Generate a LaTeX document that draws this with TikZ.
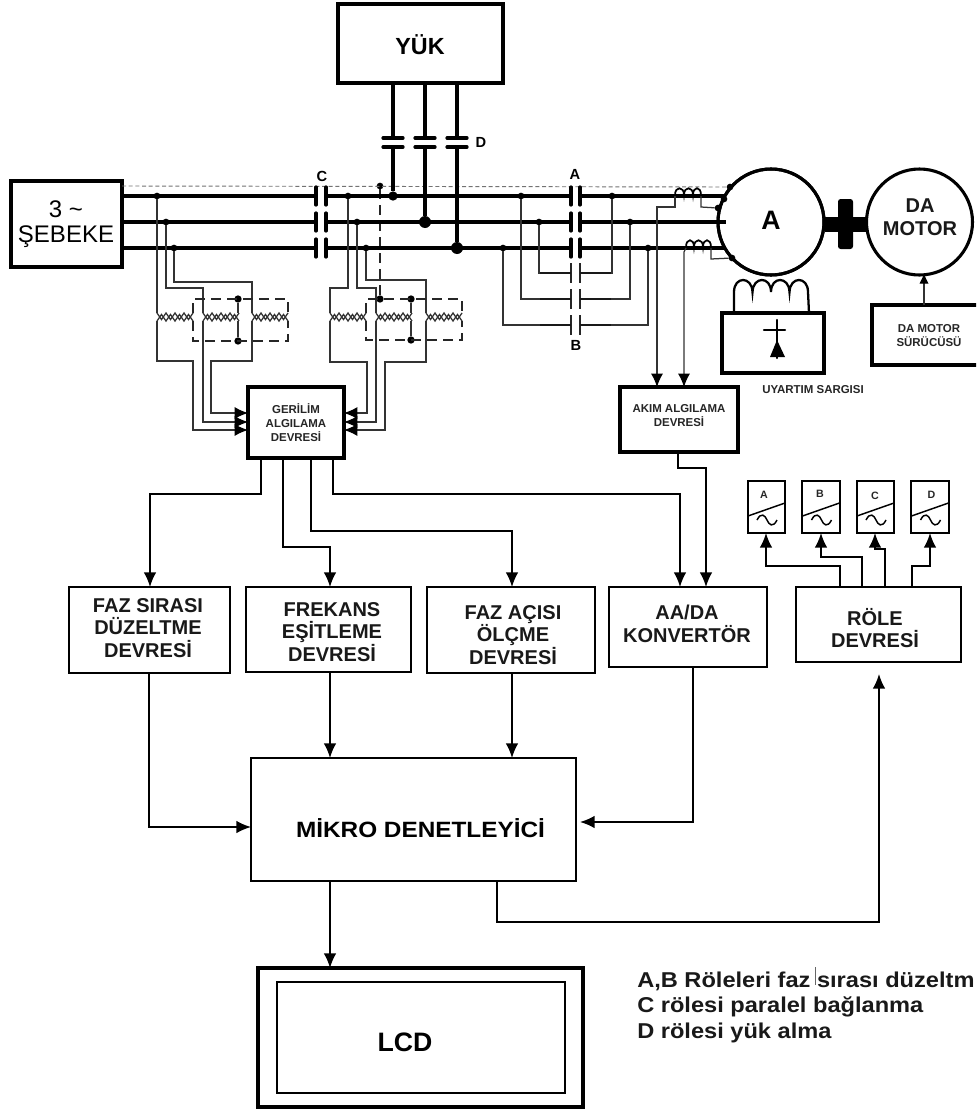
\documentclass[tikz,border=0pt]{standalone}
\usepackage{fontspec}
\setmainfont{Liberation Sans}
\newfontfamily\widefont{Liberation Sans}[FakeStretch=1.1]
\usetikzlibrary{arrows.meta}
\newcommand{\bx}[6][boxn]{%
  \pgfmathsetmacro{\bxcx}{(#3+#5)/2}\pgfmathsetmacro{\bxcy}{(#4+#6)/2}%
  \pgfmathsetmacro{\bxw}{(#5-#3)*.75}\pgfmathsetmacro{\bxh}{(#6-#4)*.75}%
  \node[#1,minimum width=\bxw pt,minimum height=\bxh pt] (#2) at (\bxcx,\bxcy) {};}
\tikzset{
  boxn/.style={draw=black,fill=white,line width=1.5pt,inner sep=0pt,outer sep=0pt,rectangle},
  boxh/.style={boxn,line width=2.4pt},
  bus/.style={line width=2.3pt,black},
  plate/.style={line width=2.4pt,black,line cap=round},
  tplate/.style={line width=1.1pt,black!85},
  wire/.style={line width=.95pt,black!80},
  mwire/.style={line width=1.3pt,black!90},
  dashw/.style={line width=1.05pt,black!85,dash pattern=on 7.5pt off 4.5pt},
  dashg/.style={line width=.7pt,black!55,dash pattern=on 3pt off 2pt},
  arr/.style={line width=1.3pt,-{Latex[length=11pt,width=9.5pt]}},
  arrt/.style={wire,-{Latex[length=10pt,width=9pt,black]}},
  sdot/.style={circle,fill=black,inner sep=0pt,minimum size=5pt,outer sep=0pt},
  mdot/.style={circle,fill=black,inner sep=0pt,minimum size=7pt,outer sep=0pt},
  ldot/.style={circle,fill=black,inner sep=0pt,minimum size=9pt,outer sep=0pt},
  t15/.style={font=\fontsize{15}{17}\selectfont\bfseries,align=center,inner sep=0pt,text=black!90},
  t9/.style={font=\fontsize{8.6}{10.5}\selectfont\bfseries,align=center,inner sep=0pt,text=black!85},
  t11/.style={font=\fontsize{11}{13}\selectfont\bfseries,inner sep=0pt},
  t8/.style={font=\fontsize{8}{9}\selectfont\bfseries,inner sep=0pt,text=black!85},
  note/.style={font=\widefont\fontsize{16.1}{18}\selectfont\bfseries,anchor=west,inner sep=0pt,text=black!90},
  xfmr/.pic={
    \draw[wire] (0,0) -- (4.5,6.5) -- (9,0) -- (13.5,6.5) -- (18,0) -- (22.5,6.5) -- (27,0) -- (31.5,6.5) -- (36,0);
    \draw[wire] (0,8) -- (4.5,1.5) -- (9,8) -- (13.5,1.5) -- (18,8) -- (22.5,1.5) -- (27,8) -- (31.5,1.5) -- (36,8);
  },
  relayface/.pic={
    \draw[line width=1.1pt] (0,35) -- (37,22);
    \draw[line width=1.1pt] (9,39) .. controls (13,31) and (17,34) .. (19,39) .. controls (21,44) and (25,47) .. (29,39);
  },
}
\begin{document}
\begin{tikzpicture}[x=.75pt,y=-.75pt]
\clip (0,0) rectangle (976,1110);
\fill[white] (0,0) rectangle (976,1110);

% main boxes
\bx[boxh]{seb}{11}{181}{122}{267}
\bx[boxh]{yuk}{338}{4}{503}{83}
\bx[boxh]{ger}{248}{387}{344}{458}
\bx[boxh]{aks}{620}{387}{738}{452}
\bx{fs}{69}{587}{230}{673}
\bx{fr}{246}{587}{411}{672}
\bx{fa}{427}{587}{595}{673}
\bx{kv}{609}{587}{767}{667}
\bx{ro}{796}{587}{961}{662}
\bx{mk}{251}{758}{576}{881}
\bx[boxh]{lo}{258}{968}{583}{1107}
\bx{li}{277}{982}{565}{1093}
\bx[boxh]{ex}{722}{313}{824}{373}
\bx[boxh]{sr}{872}{305}{985}{365}
\bx{ra}{748}{481}{785}{533}
\bx{rb}{802}{481}{840}{533}
\bx{rc}{857}{481}{894}{533}
\bx{rd}{911}{481}{949}{533}

% dots
\node[sdot] (a1) at (157,196) {};
\node[sdot] (a2) at (166,222) {};
\node[sdot] (a3) at (174,248) {};
\node[sdot] (b1) at (348,196) {};
\node[sdot] (b2) at (357,222) {};
\node[sdot] (b3) at (366,248) {};
\node[mdot] (n1) at (393,196) {};
\node[ldot] (n2) at (425,222) {};
\node[ldot] (n3) at (457,248) {};
\node[sdot] (l1) at (521,196) {};
\node[sdot] (l2) at (539,222) {};
\node[sdot] (l3) at (503,248) {};
\node[sdot] (r1) at (612,196) {};
\node[sdot] (r2) at (630,222) {};
\node[sdot] (r3) at (648,248) {};
\node[sdot] (dt) at (380,186) {};
\node[mdot,minimum size=5.5pt] (dx) at (380,299) {};
\node[mdot,minimum size=5.5pt] (s1) at (238,299) {};
\node[mdot,minimum size=5.5pt] (s2) at (238,341) {};
\node[mdot,minimum size=5.5pt] (s3) at (411,299) {};
\node[mdot,minimum size=5.5pt] (s4) at (411,340) {};

% motors
\fill[black] (825,217) rectangle (866,232);
\fill[black,rounded corners=2pt] (838,199) rectangle (853,249);
\node[circle,draw,fill=white,line width=2.3pt,minimum size=79.5pt,inner sep=0pt] (gen) at (771,222) {};
\node[circle,draw,fill=white,line width=2.3pt,minimum size=79.5pt,inner sep=0pt] (mot) at (919.5,222) {};
\node[sdot] (g0) at (730,187) {};
\node[sdot] (g1) at (724,199) {};
\node[sdot] (g2) at (718,208) {};
\node[sdot] (g3) at (732,258) {};

% dashed neutral
\draw[dashg] (seb.north east |- dt) -- (g0);
\draw[dashw,line width=.8pt] (dt) -- (dx);

% bus bars
\foreach \y in {196,222,248}{
  \draw[bus] (122,\y) -- (316,\y);
  \draw[bus] (326,\y) -- (571,\y);
  \draw[bus] (580,\y) -- (726,\y);
  \draw[plate] (316,\y-9) -- (316,\y+9);
  \draw[plate] (326,\y-9) -- (326,\y+9);
  \draw[plate] (571,\y-9) -- (571,\y+9);
  \draw[plate] (580,\y-9) -- (580,\y+9);
}
\foreach \x in {393,425,457}{
  \draw[bus] (\x,83) -- (\x,138);
  \draw[plate] (\x-10,138) -- (\x+10,138);
  \draw[plate] (\x-10,147) -- (\x+10,147);
}
\draw[bus] (393,147) -- (n1);
\draw[bus] (425,147) -- (n2);
\draw[bus] (457,147) -- (n3);
\node[circle,draw,line width=2.3pt,minimum size=79.5pt,inner sep=0pt] at (771,222) {};

% B contactor
\foreach \y in {273,299,325}{
  \draw[tplate] (571,\y-10) -- (571,\y+10);
  \draw[tplate] (580,\y-10) -- (580,\y+10);
}
\draw[wire] (l2) -- (539,273) -- (571,273);
\draw[wire] (580,273) -- (612,273) -- (r1);
\draw[wire] (l1) -- (521,299) -- (571,299);
\draw[wire] (580,299) -- (630,299) -- (r2);
\draw[wire] (l3) -- (503,325) -- (571,325);
\draw[wire] (580,325) -- (648,325) -- (r3);
\draw[mwire] (540,273) -- (571,273) (580,273) -- (611,273);
\draw[mwire] (540,299) -- (571,299) (580,299) -- (611,299);
\draw[mwire] (540,325) -- (571,325) (580,325) -- (611,325);

% transformers, left group
\pic at (157,313) {xfmr};
\pic at (203,313) {xfmr};
\pic at (252,313) {xfmr};
\draw[wire] (a1) -- (157,313);
\draw[wire] (a2) -- (166,288) -- (203,288) -- (203,313);
\draw[wire] (a3) -- (174,282) -- (252,282) -- (252,313);
\draw[dashw] (193,313) -- (193,299) -- (288,299) -- (288,313);
\draw[dashw] (193,321) -- (193,341) -- (288,341) -- (288,321);
\draw[wire] (s1) -- (238,313);
\draw[wire] (s2) -- (238,321);
\draw[arrt] (157,321) -- (157,361) -- (193,361) -- (193,430) -- (ger.west |- 0,430);
\draw[arrt] (203,321) -- (203,422) -- (ger.west |- 0,422);
\draw[arrt] (252,321) -- (252,361) -- (211,361) -- (211,413) -- (ger.west |- 0,413);

% transformers, right group
\pic at (330,313) {xfmr};
\pic at (376,313) {xfmr};
\pic at (426,313) {xfmr};
\draw[wire] (b1) -- (348,288) -- (330,288) -- (330,313);
\draw[wire] (b2) -- (357,288) -- (376,288) -- (376,313);
\draw[wire] (b3) -- (366,280) -- (426,280) -- (426,313);
\draw[dashw] (366,313) -- (366,299) -- (462,299) -- (462,313);
\draw[dashw] (366,321) -- (366,340) -- (462,340) -- (462,321);
\draw[wire] (s3) -- (411,313);
\draw[wire] (s4) -- (411,321);
\draw[arrt] (330,321) -- (330,362) -- (367,362) -- (367,413) -- (ger.east |- 0,413);
\draw[arrt] (376,321) -- (376,422) -- (ger.east |- 0,422);
\draw[arrt] (426,321) -- (426,362) -- (385,362) -- (385,430) -- (ger.east |- 0,430);

% current coils
\draw[line width=1.3pt] (675,195) .. controls (675,186) and (684,186) .. (684,195) .. controls (684,186) and (693,186) .. (693,195) .. controls (693,186) and (701,186) .. (701,195);
\draw[line width=1.3pt] (686,247) .. controls (686,238) and (694,238) .. (694,247) .. controls (694,238) and (703,238) .. (703,247) .. controls (703,238) and (711,238) .. (711,247);
\draw[wire] (701,196) -- (701,207) -- (g2);
\draw[wire] (711,248) -- (711,259) -- (g3);
\draw[arrt] (675,196) -- (675,207) -- (657,207) -- (aks.north -| 657,0);
\draw[arrt] (686,248) -- (684,252) -- (aks.north -| 684,0);

% excitation
\draw[line width=1.7pt] (734,312) -- (734,292) .. controls (734,276) and (752,276) .. (752.5,292) .. controls (753,276) and (771,276) .. (771,292) .. controls (771,276) and (789,276) .. (789.5,292) .. controls (790,276) and (808,276) .. (808,292) -- (809,313);
\fill (777,340) -- (785,357) -- (770,357) -- cycle;
\draw[line width=1.7pt,line cap=round] (777,320) -- (777,358);
\draw[line width=1.7pt,line cap=round] (764,330) -- (785,330);

% driver arrow
\draw[wire,-{Latex[length=8pt,width=7pt,black]}] (sr.north -| mot) ++(4.5,0) -- ++(0,-32);

% outputs of voltage sensing
\draw[arr] (ger.south -| 261,0) -- (261,494) -- (150,494) -- (fs.north -| 150,0);
\draw[arr] (ger.south -| 283,0) -- (283,547) -- (330,547) -- (fr.north -| 330,0);
\draw[arr] (ger.south -| 311,0) -- (311,531) -- (512,531) -- (fa.north -| 512,0);
\draw[arr] (ger.south -| 333,0) -- (333,494) -- (680,494) -- (kv.north -| 680,0);
\draw[arr] (aks.south -| 678,0) -- (678,468) -- (706,468) -- (kv.north -| 706,0);

% relays
\draw[arr] (ro.north -| 840,0) -- (840,566) -- (766,566) -- (ra.south -| 766,0);
\draw[arr] (ro.north -| 862,0) -- (862,557) -- (821,557) -- (rb.south -| 821,0);
\draw[arr] (ro.north -| 885,0) -- (885,549) -- (875,549) -- (rc.south -| 875,0);
\draw[arr] (ro.north -| 912,0) -- (912,566) -- (930,566) -- (rd.south -| 930,0);
\pic at (748,481) {relayface};
\pic at (802.5,481) {relayface};
\pic at (857,481) {relayface};
\pic at (911.5,481) {relayface};

% to micro controller
\draw[arr] (fs.south -| 149,0) -- (149,827) -- (mk.west |- 0,827);
\draw[arr] (fr.south -| 330,0) -- (mk.north -| 330,0);
\draw[arr] (fa.south -| 512,0) -- (mk.north -| 512,0);
\draw[arr] (kv.south -| 693,0) -- (693,822) -- ([xshift=3pt]mk.east |- 0,822);
\draw[arr] (mk.south -| 497,0) -- (497,922) -- (879,922) -- ([yshift=-9pt]ro.south -| 879,0);
\draw[arr] (mk.south -| 330,0) -- (lo.north -| 330,0);

% texts
\node[font=\fontsize{18}{20}\selectfont,inner sep=0pt] (t3) at (66,209) {3 \textasciitilde};
\node[font=\fontsize{18}{20}\selectfont,inner sep=0pt] (tseb) at (66,237) {ŞEBEKE};
\node[font=\fontsize{17.5}{20}\selectfont\bfseries,inner sep=0pt] (tyuk) at (420,45) {YÜK};
\node[t11] (tc) at (322,176) {C};
\node[t11] (ta) at (575,174) {A};
\node[t11] (tb) at (576,345) {B};
\node[t11] (td) at (481,142) {D};
\node[font=\fontsize{20}{22}\selectfont\bfseries,inner sep=0pt] (tg) at (771,220) {A};
\node[t15] (tm) at (920,217) {DA\\MOTOR};
\node[t9] (tger) at (296,423) {GERİLİM\\ALGILAMA\\DEVRESİ};
\node[t9] (taks) at (679,416) {AKIM ALGILAMA\\DEVRESİ};
\node[t9] (tuy) at (813,390) {UYARTIM SARGISI};
\node[t9] (tdr) at (929,336) {DA MOTOR\\SÜRÜCÜSÜ};
\node[t15] (tfs) at (148,628) {FAZ SIRASI\\DÜZELTME\\DEVRESİ};
\node[t15] (tfr) at (332,632) {FREKANS\\EŞİTLEME\\DEVRESİ};
\node[t15] (tfa) at (513,635) {FAZ AÇISI\\ÖLÇME\\DEVRESİ};
\node[t15] (tkv) at (687,624) {AA/DA\\KONVERTÖR};
\node[t15] (tro) at (875,628) {RÖLE\\DEVRESİ};
\node[font=\widefont\fontsize{16.6}{18}\selectfont\bfseries,inner sep=0pt] (tmk) at (420.5,828) {MİKRO DENETLEYİCİ};
\node[font=\fontsize{20}{22}\selectfont\bfseries,inner sep=0pt] (tlcd) at (405,1042) {LCD};
\node[t8] (tra) at (764,495) {A};
\node[t8] (trb) at (820,494) {B};
\node[t8] (trc) at (875,496) {C};
\node[t8] (trd) at (931.5,495) {D};
\node[note] (n1t) at (637,981) {A,B Röleleri faz sırası düzeltm};
\node[note] (n2t) at (637,1007) {C rölesi paralel bağlanma};
\node[note] (n3t) at (637,1033) {D rölesi yük alma};
\draw[line width=.4pt,black!60] (815,967) -- (815,985);
\end{tikzpicture}
\end{document}
